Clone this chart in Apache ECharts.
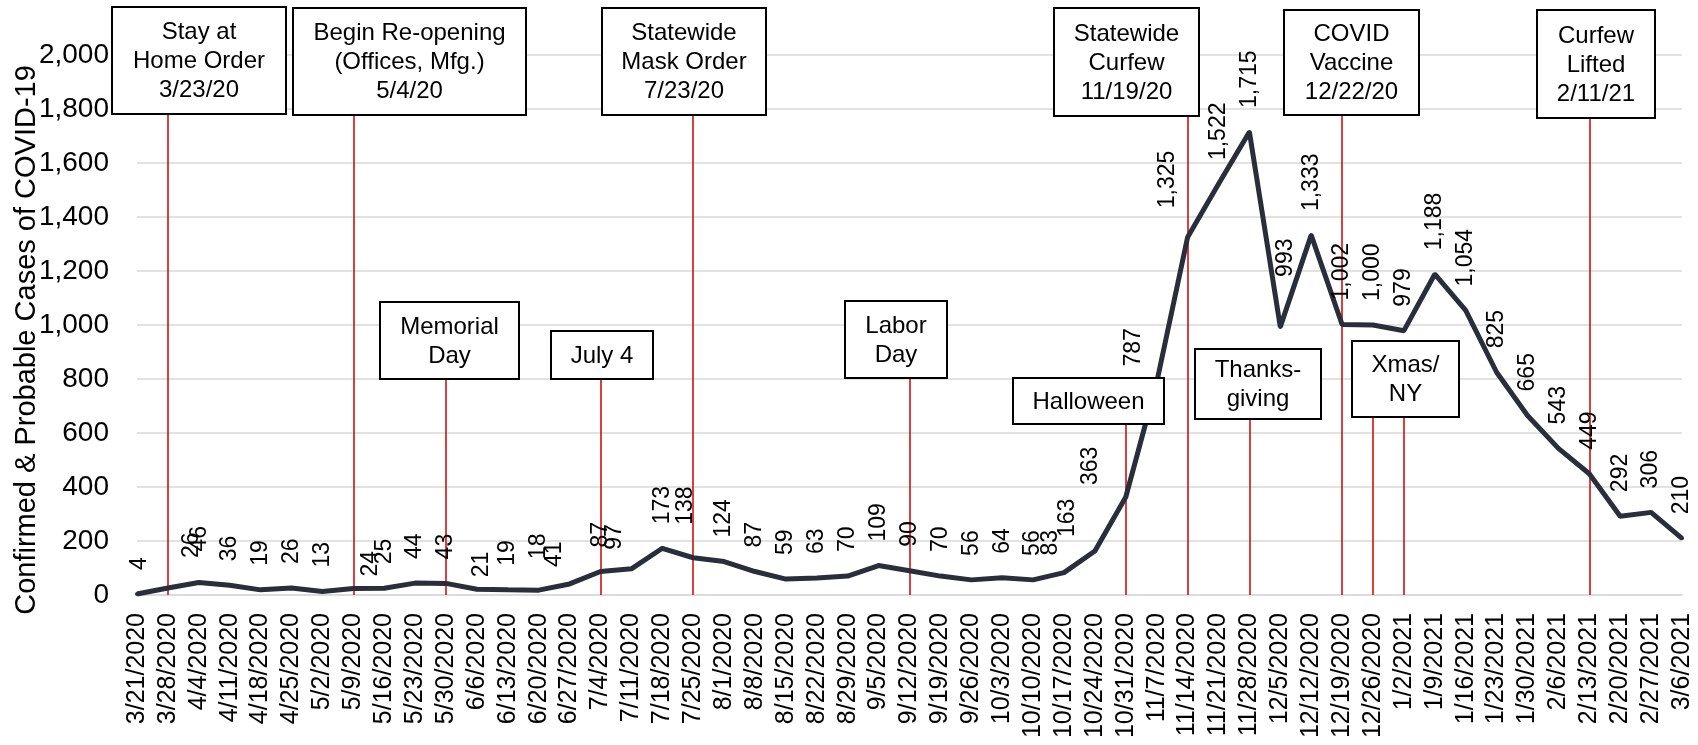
<!DOCTYPE html>
<html>
<head>
<meta charset="utf-8">
<script src="https://cdn.jsdelivr.net/npm/echarts@6/dist/echarts.min.js"></script>
<style>
html,body{margin:0;padding:0;background:#fff;}
#chart{width:1698px;height:745px;}
</style>
</head>
<body>
<div id="chart"></div>
<script>
const weeks = ['3/21/2020','3/28/2020','4/4/2020','4/11/2020','4/18/2020','4/25/2020','5/2/2020','5/9/2020','5/16/2020','5/23/2020','5/30/2020','6/6/2020','6/13/2020','6/20/2020','6/27/2020','7/4/2020','7/11/2020','7/18/2020','7/25/2020','8/1/2020','8/8/2020','8/15/2020','8/22/2020','8/29/2020','9/5/2020','9/12/2020','9/19/2020','9/26/2020','10/3/2020','10/10/2020','10/17/2020','10/24/2020','10/31/2020','11/7/2020','11/14/2020','11/21/2020','11/28/2020','12/5/2020','12/12/2020','12/19/2020','12/26/2020','1/2/2021','1/9/2021','1/16/2021','1/23/2021','1/30/2021','2/6/2021','2/13/2021','2/20/2021','2/27/2021','3/6/2021'];
const cases = [4,26,46,36,19,26,13,24,25,44,43,21,19,18,41,87,97,173,138,124,87,59,63,70,109,90,70,56,64,56,83,163,363,787,1325,1522,1715,993,1333,1002,1000,979,1188,1054,825,665,543,449,292,306,210];
const yTicks = [0,200,400,600,800,1000,1200,1400,1600,1800,2000];

// event marker lines: category index and the value where each line meets its box
const eventWeek = [1,7,10,15,18,25,32,34,36,39,40,41,47];
const eventTop  = [1781,1778,800,800,1778,800,633,1774,652,1778,659,659,1767];

// annotation boxes (text)
const boxText = [
  'Stay at\nHome Order\n3/23/20',
  'Begin Re-opening\n(Offices, Mfg.)\n5/4/20',
  'Memorial\nDay',
  'July 4',
  'Statewide\nMask Order\n7/23/20',
  'Labor\nDay',
  'Halloween',
  'Statewide\nCurfew\n11/19/20',
  'Thanks-\ngiving',
  'COVID\nVaccine\n12/22/20',
  'Xmas/\nNY',
  'Curfew\nLifted\n2/11/21'
];
// box rectangles in pixels [x1,y1,x2,y2]
const boxRect = [
  [112,7,286,114],[293,8,526,115],[380,302,519,379],[551,331,653,379],
  [602,8,766,115],[845,301,947,378],[1013,378,1164,424],[1054,8,1199,116],
  [1195,349,1321,419],[1284,10,1419,115],[1352,341,1459,417],[1537,10,1655,118]
];
// manual nudges of individual data labels, screen [dx, dy] in pixels
const labelNudge = {0:[3,0],1:[24,-6],2:[1,-7],7:[17,12],11:[5,12],13:[0,-7],14:[-15,7],16:[-17,5],18:[-8,-9],
  30:[-13,7],31:[-27,10],32:[-35,12],33:[-23,8],34:[-20,-5],37:[5,-26]};

const FONT = 'Liberation Sans, Arial, Helvetica, sans-serif';
const fmt = v => v.toLocaleString('en-US');

const chart = echarts.init(document.getElementById('chart'), null, {renderer:'canvas'});

// label is rotated 90deg, so its offset is in the rotated frame: local = [-dy, dx]
const seriesData = cases.map((v,i) => {
  const item = {value: v};
  const n = labelNudge[i];
  if (n) item.label = {offset: [-n[1], n[0]]};
  return item;
});

const markData = eventWeek.map((w,k) => [
  {coord: [w, 0]},
  {coord: [w, eventTop[k]]}
]);

const graphics = [];
boxRect.forEach((r,k) => {
  graphics.push({type:'rect', z:100, zlevel:0,
     shape:{x:r[0], y:r[1], width:r[2]-r[0], height:r[3]-r[1]},
     style:{fill:'#ffffff', stroke:'#000000', lineWidth:2}});
  graphics.push({type:'text', z:101, zlevel:0,
     style:{x:(r[0]+r[2])/2, y:(r[1]+r[3])/2 + 1, text: boxText[k],
      align:'center', verticalAlign:'middle', font:'24px ' + FONT, lineHeight:29, fill:'#000'}});
});

chart.setOption({
  animation: false,
  backgroundColor: '#ffffff',
  grid: {left:137, right:16, top:55, bottom:150, containLabel:false, outerBoundsMode:'none'},
  xAxis: {
    type: 'category',
    data: weeks,
    boundaryGap: false,
    axisLine: {show:true, lineStyle:{color:'#d9d9d9', width:1.5}},
    axisTick: {show:false},
    axisLabel: {rotate:90, interval:0, fontSize:25, color:'#000', fontFamily:FONT, margin:18}
  },
  yAxis: {
    type: 'value',
    min: 0, max: 2000, interval: 200,
    name: 'Confirmed & Probable Cases of COVID-19',
    nameLocation: 'middle',
    nameGap: 96,
    nameMoveOverlap: false,
    nameTextStyle: {fontSize:29, color:'#000', fontFamily:FONT, padding:[0,30,0,0]},
    axisLine: {show:false},
    axisTick: {show:false},
    splitLine: {show:true, lineStyle:{color:'#d9d9d9', width:1.5}},
    axisLabel: {fontSize:28, color:'#000', fontFamily:FONT, margin:28, formatter: v => fmt(v)}
  },
  graphic: {elements: graphics},
  series: [{
    type: 'line',
    data: seriesData,
    symbol: 'circle',
    symbolSize: 4,
    itemStyle: {color:'#2a2e3b'},
    lineStyle: {color:'#2a2e3b', width:5},
    z: 3,
    label: {
      show: true,
      position: 'top',
      distance: 22,
      rotate: 90,
      align: 'left',
      verticalAlign: 'middle',
      fontSize: 23,
      color: '#000',
      fontFamily: FONT,
      formatter: p => fmt(p.value)
    },
    markLine: {
      silent: true,
      symbol: ['none','none'],
      label: {show:false},
      lineStyle: {color:'#cc0000', width:1.5, type:'solid'},
      z: 1,
      data: markData
    }
  }]
});
</script>
</body>
</html>
